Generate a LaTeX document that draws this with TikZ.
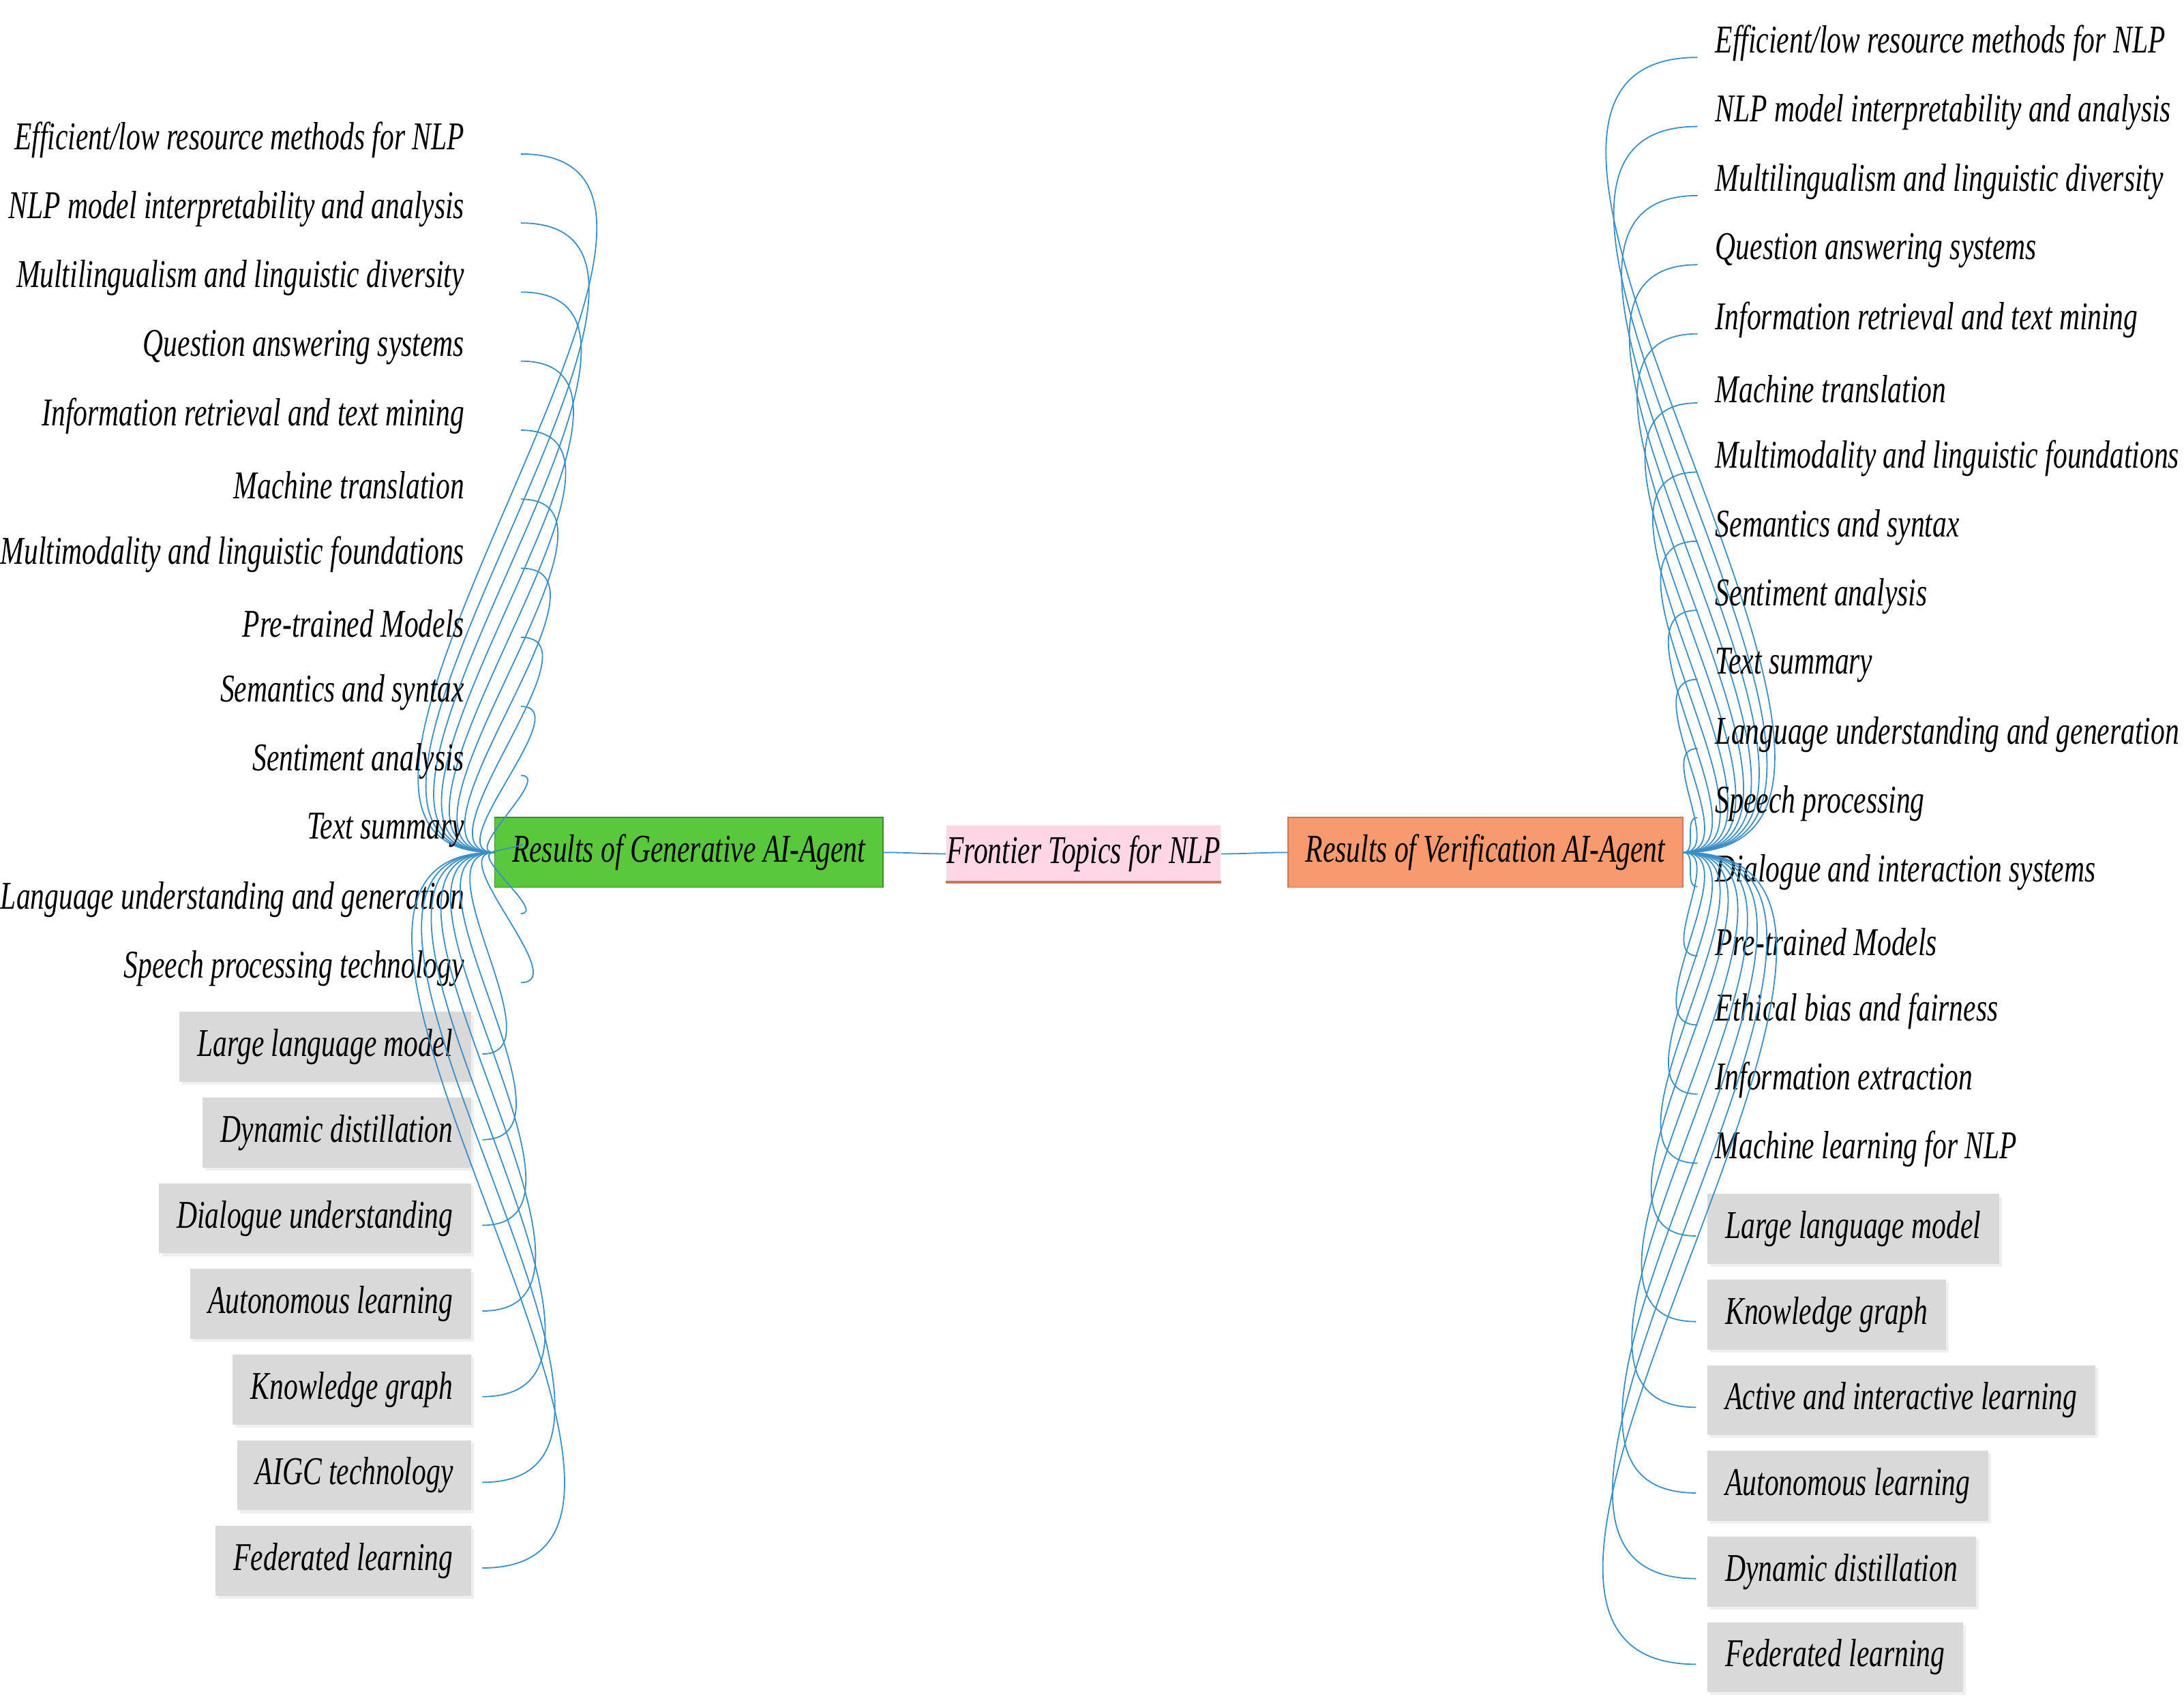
\documentclass[tikz,border=0pt]{standalone}
\usepackage{fontspec}
\setmainfont{Liberation Serif}[FakeStretch=0.72]
\usepackage{xcolor}
\usetikzlibrary{shadows}

\definecolor{linkblue}{HTML}{3A8FC8}
\definecolor{gengreen}{HTML}{5AC83C}
\definecolor{verorange}{HTML}{F79A6E}
\definecolor{ctrpink}{HTML}{FFD6E6}
\definecolor{boxgray}{HTML}{D9D9D9}

\tikzset{
  item/.style={inner sep=0pt, font=\fontsize{16}{18}\selectfont\itshape},
  grayitem/.style={item, fill=boxgray, minimum height=10mm, inner xsep=2.6mm,
    drop shadow={shadow xshift=0.4mm, shadow yshift=-0.4mm, fill=black!12}},
  hub/.style={item, draw, minimum height=10mm, inner xsep=2.5mm},
  link/.style={draw=linkblue, line width=0.5pt}
}

\begin{document}
\begin{tikzpicture}[x=0.2mm,y=-0.2mm]
  \useasboundingbox (0,0) rectangle (1560,1218);
  % hubs
  \node [hub, fill=gengreen, draw=gengreen!70!black, minimum width=53mm] (gen) at (492,609) {Results of Generative AI-Agent};
  \node [item, fill=ctrpink, minimum width=39mm, minimum height=8mm] (ctr) at (774,610) {Frontier Topics for NLP};
  \draw [verorange!80!black, line width=1.2pt] (ctr.south west) -- (ctr.south east);
  \node [hub, fill=verorange, draw=verorange!80!black, minimum width=54mm] (ver) at (1061,609) {Results of Verification AI-Agent};
  \draw [link] (gen.east) to[out=0,in=180] (ctr.west);
  \draw [link] (ctr.east) to[out=0,in=180] (ver.west);
  % left side
  \foreach \t [count=\i] in {Efficient/low resource methods for NLP, NLP model interpretability and analysis,
      Multilingualism and linguistic diversity, Question answering systems,
      Information retrieval and text mining, Machine translation,
      Multimodality and linguistic foundations, Pre-trained Models, Semantics and syntax,
      Sentiment analysis, Text summary, Language understanding and generation,
      Speech processing technology}
  {
    \node [item, anchor=east] (l\i) at (332,{100+49.33*(\i-1)}) {\t};
    \draw [link] (gen.west) to[out=180,in=0] ([xshift=8mm,yshift=-2mm]l\i.east);
  }
  \foreach \t [count=\i] in {Large language model, Dynamic distillation, Dialogue understanding,
      Autonomous learning, Knowledge graph, AIGC technology, Federated learning}
  {
    \node [grayitem, anchor=east] (lb\i) at (337,{748+61.2*(\i-1)}) {\t};
    \draw [link] (gen.west) to[out=180,in=0] ([xshift=1.5mm,yshift=-1mm]lb\i.east);
  }
  % right side
  \foreach \t [count=\i] in {Efficient/low resource methods for NLP, NLP model interpretability and analysis,
      Multilingualism and linguistic diversity, Question answering systems,
      Information retrieval and text mining, Machine translation,
      Multimodality and linguistic foundations, Semantics and syntax, Sentiment analysis,
      Text summary, Language understanding and generation, Speech processing,
      Dialogue and interaction systems, Pre-trained Models, Ethical bias and fairness,
      Information extraction, Machine learning for NLP}
  {
    \node [item, anchor=west] (r\i) at (1225,{31+49.375*(\i-1)}) {\t};
    \draw [link] (ver.east) to[out=0,in=180] ([xshift=-2.5mm,yshift=-2mm]r\i.west);
  }
  \foreach \t [count=\i] in {Large language model, Knowledge graph, Active and interactive learning,
      Autonomous learning, Dynamic distillation, Federated learning}
  {
    \node [grayitem, anchor=west] (rb\i) at (1219,{878+61.2*(\i-1)}) {\t};
    \draw [link] (ver.east) to[out=0,in=180] ([xshift=-1.5mm,yshift=-1mm]rb\i.west);
  }
\end{tikzpicture}
\end{document}
